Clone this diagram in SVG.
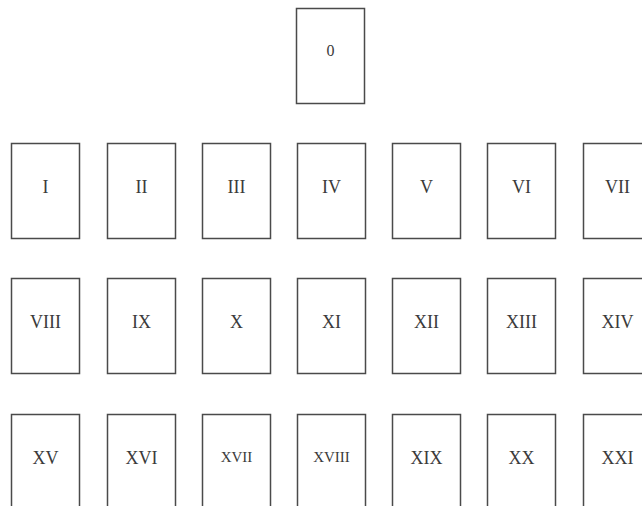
<svg xmlns="http://www.w3.org/2000/svg" width="642" height="506" viewBox="0 0 642 506">
<style>
.card{fill:#fff;stroke:#4a4a4a;stroke-width:1.5}
.lbl{font-family:"Liberation Serif","Times New Roman",serif;font-size:18px;fill:#3a3a3a;text-anchor:middle}
.sm{font-size:15px}
.zero{font-size:16px}
</style>
<rect width="642" height="506" fill="#fff"/>
<g id="n0"><rect class="card" x="296.5" y="8.5" width="68" height="95"/><text class="lbl zero" x="330.5" y="56">0</text></g>
<g id="n1"><rect class="card" x="11.5" y="143.5" width="68" height="95"/><text class="lbl" x="45.5" y="193">I</text></g>
<g id="n2"><rect class="card" x="107.5" y="143.5" width="68" height="95"/><text class="lbl" x="141.5" y="193">II</text></g>
<g id="n3"><rect class="card" x="202.5" y="143.5" width="68" height="95"/><text class="lbl" x="236.5" y="193">III</text></g>
<g id="n4"><rect class="card" x="297.5" y="143.5" width="68" height="95"/><text class="lbl" x="331.5" y="193">IV</text></g>
<g id="n5"><rect class="card" x="392.5" y="143.5" width="68" height="95"/><text class="lbl" x="426.5" y="193">V</text></g>
<g id="n6"><rect class="card" x="487.5" y="143.5" width="68" height="95"/><text class="lbl" x="521.5" y="193">VI</text></g>
<g id="n7"><rect class="card" x="583.5" y="143.5" width="68" height="95"/><text class="lbl" x="617.5" y="193">VII</text></g>
<g id="n8"><rect class="card" x="11.5" y="278.5" width="68" height="95"/><text class="lbl" x="45.5" y="328">VIII</text></g>
<g id="n9"><rect class="card" x="107.5" y="278.5" width="68" height="95"/><text class="lbl" x="141.5" y="328">IX</text></g>
<g id="n10"><rect class="card" x="202.5" y="278.5" width="68" height="95"/><text class="lbl" x="236.5" y="328">X</text></g>
<g id="n11"><rect class="card" x="297.5" y="278.5" width="68" height="95"/><text class="lbl" x="331.5" y="328">XI</text></g>
<g id="n12"><rect class="card" x="392.5" y="278.5" width="68" height="95"/><text class="lbl" x="426.5" y="328">XII</text></g>
<g id="n13"><rect class="card" x="487.5" y="278.5" width="68" height="95"/><text class="lbl" x="521.5" y="328">XIII</text></g>
<g id="n14"><rect class="card" x="583.5" y="278.5" width="68" height="95"/><text class="lbl" x="617.5" y="328">XIV</text></g>
<g id="n15"><rect class="card" x="11.5" y="414.5" width="68" height="95"/><text class="lbl" x="45.5" y="464">XV</text></g>
<g id="n16"><rect class="card" x="107.5" y="414.5" width="68" height="95"/><text class="lbl" x="141.5" y="464">XVI</text></g>
<g id="n17"><rect class="card" x="202.5" y="414.5" width="68" height="95"/><text class="lbl sm" x="236.5" y="462">XVII</text></g>
<g id="n18"><rect class="card" x="297.5" y="414.5" width="68" height="95"/><text class="lbl sm" x="331.5" y="462">XVIII</text></g>
<g id="n19"><rect class="card" x="392.5" y="414.5" width="68" height="95"/><text class="lbl" x="426.5" y="464">XIX</text></g>
<g id="n20"><rect class="card" x="487.5" y="414.5" width="68" height="95"/><text class="lbl" x="521.5" y="464">XX</text></g>
<g id="n21"><rect class="card" x="583.5" y="414.5" width="68" height="95"/><text class="lbl" x="617.5" y="464">XXI</text></g>
</svg>
